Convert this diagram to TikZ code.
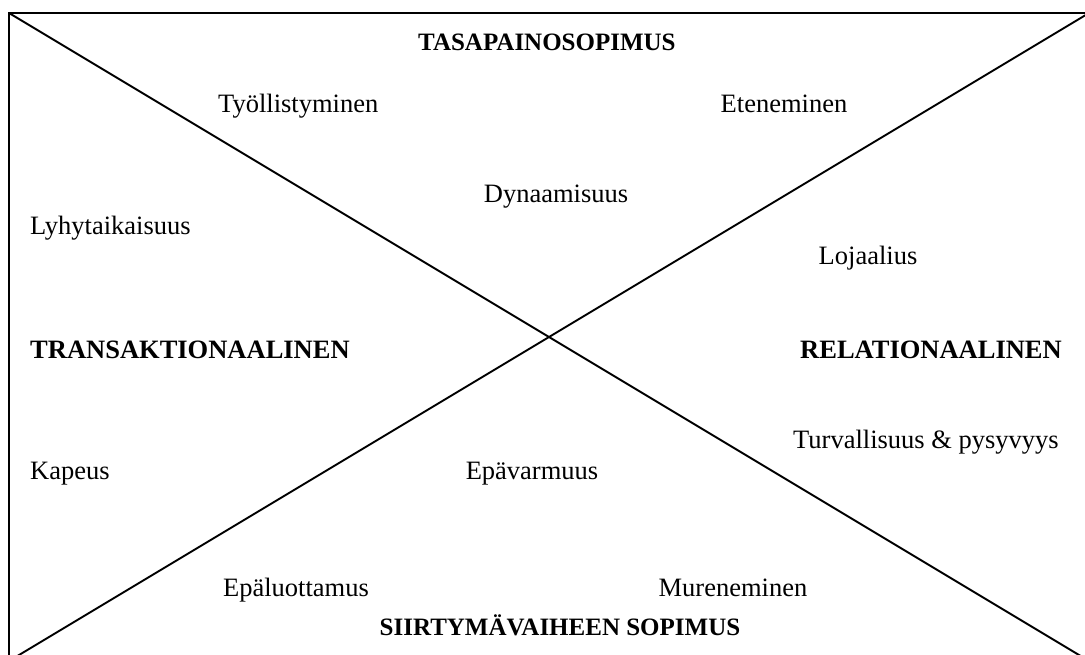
\documentclass[tikz,border=0pt]{standalone}
\usepackage{fontspec}
\setmainfont{Liberation Serif}
\begin{document}
\begin{tikzpicture}[x=1pt,y=-1pt,
  frame/.style={line width=1.9pt, line join=miter},
  lbl/.style={font=\fontsize{26.5}{30}\selectfont, inner sep=0pt, anchor=base},
  head/.style={font=\fontsize{26.5}{30}\selectfont\bfseries, inner sep=0pt, anchor=base}]
  \useasboundingbox (0,0) rectangle (1085,654);
  \clip (0,0) rectangle (1085,654);
  % corners of the frame
  \coordinate (tl) at (9,13);
  \coordinate (tr) at (1089,13);
  \coordinate (bl) at (9,661);
  \coordinate (br) at (1089,661);
  \draw[frame] (tl) rectangle (br);
  \draw[frame] (tl) -- (br);
  \draw[frame] (bl) -- (tr);
  % headings of the four sectors
  \node[head, font=\fontsize{25}{30}\selectfont\bfseries, anchor=base west] (tasa) at (418,50) {TASAPAINOSOPIMUS};
  \node[head, anchor=base west] (trans) at (30,358) {TRANSAKTIONAALINEN};
  \node[head, anchor=base east] (rel) at (1062,358) {RELATIONAALINEN};
  \node[head, font=\fontsize{25}{30}\selectfont\bfseries] (siirt) at (560,635) {SIIRTYMÄVAIHEEN SOPIMUS};
  % characteristics
  \node[lbl, anchor=base west] (tyo) at (218,112) {Työllistyminen};
  \node[lbl] (ete) at (784,112) {Eteneminen};
  \node[lbl] (dyn) at (556,202) {Dynaamisuus};
  \node[lbl, anchor=base west] (lyh) at (30,234) {Lyhytaikaisuus};
  \node[lbl] (loj) at (868,264) {Lojaalius};
  \node[lbl, anchor=base west] (turv) at (793,448) {Turvallisuus \& pysyvyys};
  \node[lbl, anchor=base west] (kap) at (30,479) {Kapeus};
  \node[lbl] (epav) at (532,479) {Epävarmuus};
  \node[lbl] (epal) at (296,596) {Epäluottamus};
  \node[lbl] (mur) at (733,596) {Mureneminen};
\end{tikzpicture}
\end{document}
